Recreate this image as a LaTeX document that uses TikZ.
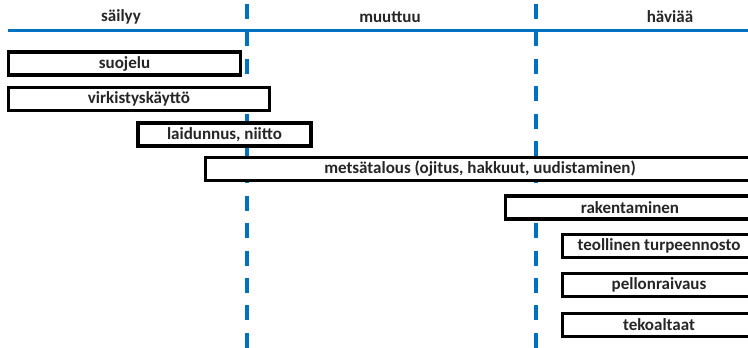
\documentclass[tikz,border=0pt]{standalone}
\usepackage{fontspec}
\setmainfont{Carlito}
\usepackage{tikz}
\definecolor{viiva}{HTML}{0070C0}
\definecolor{teksti}{HTML}{262626}

\begin{document}
\begin{tikzpicture}[x=1pt,y=-1pt,
            every node/.style={font=\fontsize{17}{20}\selectfont\bfseries,text=teksti},
            palkki/.style={draw=black,line width=3.5pt,fill=white,minimum height=23pt,inner sep=0pt},
            raja/.style={viiva,line width=3.5pt,dash pattern=on 15pt off 12.4pt}]
            \useasboundingbox (0,0) rectangle (748,348);
            \draw[raja] (247,4) -- (247,348);
            \draw[raja] (536,4) -- (536,348);
            \draw[viiva,line width=3pt] (8,30) -- (748,30);
            \node (sailyy) at (121,17) {säilyy};
            \node (muuttuu) at (390,17) {muuttuu};
            \node (haviaa) at (670,17) {häviää};
            \node[palkki,minimum width=232pt] (suojelu) at (124.5,63.5) {suojelu};
            \node[palkki,minimum width=261pt] (virkistys) at (139,99) {virkistyskäyttö};
            \node[palkki,minimum width=173pt] (laidunnus) at (224.5,134.5) {laidunnus, niitto};
            \node[palkki,minimum width=549pt] (metsa) at (480,169) {metsätalous (ojitus, hakkuut, uudistaminen)};
            \node[palkki,minimum width=249pt] (rakent) at (630,207.5) {rakentaminen};
            \node[palkki,minimum width=193pt] (turve) at (659,246) {teollinen turpeennosto};
            \node[palkki,minimum width=193pt] (pelto) at (659,285) {pellonraivaus};
            \node[palkki,minimum width=193pt] (allas) at (659,325) {tekoaltaat};
        \end{tikzpicture}
\end{document}
